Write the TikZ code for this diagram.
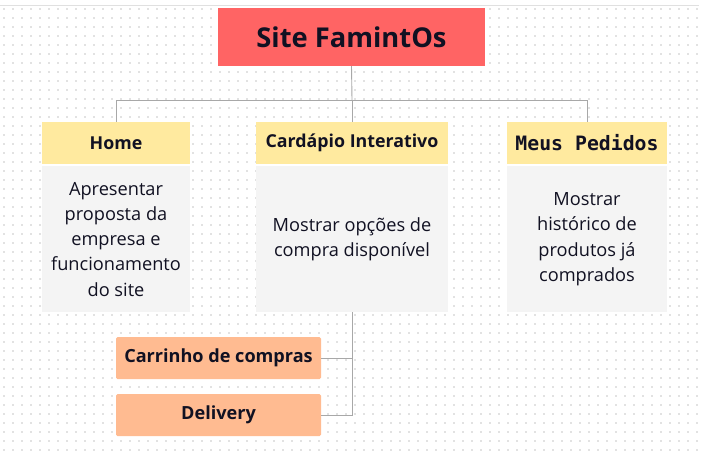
\documentclass[tikz,border=0pt]{standalone}
\usepackage{fontspec}
\setmainfont{Open Sans}
\newfontfamily\monobold{DejaVu Sans Mono}
\definecolor{titlered}{HTML}{FF6464}
\definecolor{headyellow}{HTML}{FFEA9F}
\definecolor{bodygray}{HTML}{F4F4F4}
\definecolor{leaforange}{HTML}{FFBB91}
\definecolor{linkgray}{HTML}{A8A8A8}
\definecolor{dotgray}{HTML}{E2E2E2}
\definecolor{inkdark}{HTML}{111122}
\tikzset{
  titlebox/.style={fill=titlered, minimum width=267pt, minimum height=58pt, inner sep=0pt,
    font=\fontsize{27.3}{32}\selectfont\bfseries, text=inkdark},
  headbox/.style={fill=headyellow, minimum height=42pt, inner sep=0pt,
    font=\fontsize{17.8}{21}\selectfont\bfseries, text=inkdark},
  bodybox/.style={fill=bodygray, minimum height=146pt, inner sep=0pt, align=center,
    font=\fontsize{18.2}{25.3}\selectfont, text=inkdark},
  leafbox/.style={fill=leaforange, rounded corners=1.5pt, minimum width=205pt, minimum height=42pt,
    inner sep=0pt, font=\fontsize{18.1}{21}\selectfont\bfseries, text=inkdark},
  link/.style={draw=linkgray, line width=0.9pt},
}
\begin{document}
\begin{tikzpicture}[x=1pt,y=-1pt]
  % canvas and dotted grid
  \fill[white] (0,0) rectangle (703,458);
  \useasboundingbox (0,0) rectangle (703,458);
  \foreach \gx in {4,13,...,700} {
    \foreach \gy in {9,18,...,456} {
      \fill[dotgray] (\gx-0.8,\gy-0.8) rectangle (\gx+0.8,\gy+0.8);
    }
  }
  \draw[line width=0.8pt, draw=black!12] (0,5) -- (699,5);

  % nodes
  \node[titlebox] (site) at (351.5,37) {Site FamintOs};

  \node[headbox, minimum width=148pt] (home) at (116,143) {Home};
  \node[bodybox, minimum width=148pt, anchor=north] (homebody) at (116,166)
    {Apresentar\\proposta da\\empresa e\\funcionamento\\do site};

  \node[headbox, minimum width=192pt] (menu) at (352,143) {Cardápio Interativo};
  \node[bodybox, minimum width=192pt, anchor=north] (menubody) at (352,166)
    {Mostrar opções de\\compra disponível};

  \node[headbox, minimum width=160pt, font=\fontsize{19.8}{23}\selectfont\monobold\bfseries] (orders) at (587,143) {Meus Pedidos};
  \node[bodybox, minimum width=160pt, anchor=north] (ordersbody) at (587,166)
    {Mostrar\\histórico de\\produtos já\\comprados};

  \node[leafbox] (cart) at (218.5,358) {Carrinho de compras};
  \node[leafbox] (delivery) at (218.5,415) {Delivery};

  % connectors
  \coordinate (bus) at (352,100);
  \draw[link] (site.south) -- (bus);
  \draw[link] (bus) -| (home.north);
  \draw[link] (bus) -| (orders.north);
  \draw[link] (bus) -- (menu.north);
  \draw[link] (menubody.south) |- (delivery.east);
  \draw[link] (cart.east) -| (menubody.south);
\end{tikzpicture}
\end{document}
